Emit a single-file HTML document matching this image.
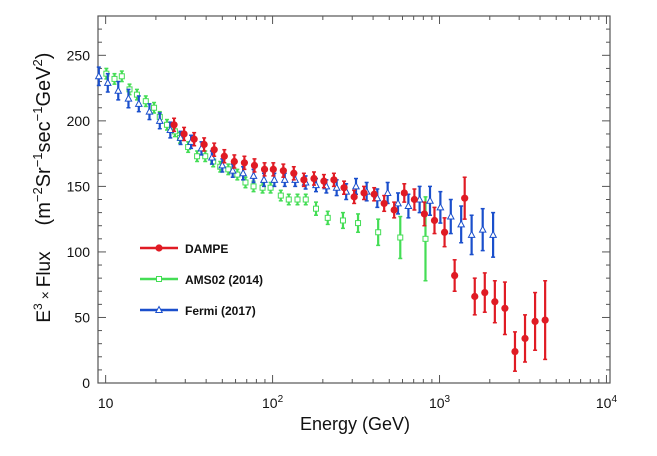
<!DOCTYPE html>
<html><head><meta charset="utf-8"><style>
body{margin:0;background:#fff}
svg text{font-family:"Liberation Sans",sans-serif;fill:#111}
</style></head><body>
<svg id="chart" width="657" height="451" viewBox="0 0 657 451" xmlns="http://www.w3.org/2000/svg">
<g id="axes"></g>
<g id="series"></g>
<g id="legend"></g>
<text x="355" y="430" font-size="18" text-anchor="middle">Energy (GeV)</text>
<text transform="translate(50,287) rotate(-90)" font-size="19" text-anchor="middle">E<tspan dy="-8" font-size="12">3</tspan><tspan dy="8" font-size="14"> × </tspan><tspan>Flux</tspan></text>
<text transform="translate(50,139) rotate(-90)" font-size="20" text-anchor="middle">(m<tspan dy="-8" font-size="13">−2</tspan><tspan dy="8">Sr</tspan><tspan dy="-8" font-size="13">−1</tspan><tspan dy="8">sec</tspan><tspan dy="-8" font-size="13">−1</tspan><tspan dy="8">GeV</tspan><tspan dy="-8" font-size="13">2</tspan><tspan dy="8">)</tspan></text>
</svg>
<script>
const xTickLabels=["10","10","10","10"];
const xTickExp=["","2","3","4"];
const yTicks=[0,50,100,150,200,250];
const dampeE=[25.7,29.5,33.9,38.9,44.7,51.4,59,67.8,77.9,89.5,101,116,134,154,177,203,233,268,308,353,406,466,535,615,707,812,933,1072,1232,1415,1626,1867,2145,2464,2831,3252,3736,4292];
const dampeV=[197,190,186,182,178,173,169,168,166,163,163,162,160,155,156,154,155,149,142,145,144,137,132,145,140,129,124,115,82,141,66,69,62,57,24,34,47,48];
const dampeErr=[5,5,5,5,5,5,5,5,5,5,5,5,5,5,5,5,5,5,5,5,5,6,6,7,8,9,10,11,12,16,14,15,16,20,15,18,22,30];
const fermiE=[9.1,10.3,11.9,13.7,15.8,18.3,21.1,24.4,28.1,32.5,37.5,43.3,50,57.7,66.6,76.9,88.8,102.5,118.3,136.6,157.7,182,210,242,276,316,366,424,489,564,651,760,877,1012,1168,1348,1557,1814,2094];
const fermiV=[234,229,223,217,213,207,200,193,187,184,179,172,166,162,160,158,155,155,155,155,153,151,150,149,146,150,146,141,145,137,135,140,139,134,127,121,113,117,113];
const fermiErr=[7,7,7,7,6,6,6,6,5,5,5,5,5,5,5,5,5,5,5,5,5,5,5,6,6,6,7,7,8,8,9,10,11,12,13,14,15,16,17];
const amsE=[10.1,11.3,12.5,13.9,15.4,17.4,19.5,21.1,23.3,26,27.9,31.2,35.3,39.5,44.1,48.6,54.3,61.5,68.8,76.9,87.1,97.3,112,125,141,158,182,214,264,325,429,582,824];
const amsV=[236,232,234,224,220,215,210,203,197,192,187,180,173,173,169,165,163,159,153,150,149,149,143,140,140,140,133,126,124,122,115,111,110];
const amsErr=[4,4,4,4,4,4,4,4,4,4,4,4,4,4,4,4,4,4,4,4,4,4,4,4,4,4,5,5,6,7,10,16,32];
const L=98,R=610,T=16,B=383,lmin=Math.log10(9),lmax=Math.log10(10500),ymax=280;
const sx=e=>L+(Math.log10(e)-lmin)/(lmax-lmin)*(R-L);
const sy=v=>B-v/ymax*(B-T);
const NS="http://www.w3.org/2000/svg";
function mk(t,a,p){const e=document.createElementNS(NS,t);for(const k in a)e.setAttribute(k,a[k]);p.appendChild(e);return e;}
const ax=document.getElementById('axes');
const fr=mk('rect',{x:L,y:T,width:R-L,height:B-T,fill:'none',stroke:'#555','stroke-width':1.2},ax);

for(let d=1;d<=4;d++){for(let m=1;m<10;m++){const e=m*Math.pow(10,d);if(e<9||e>10500)continue;const x=sx(e);const len=m==1?8:4;
mk('line',{x1:x,x2:x,y1:B,y2:B-len,stroke:'#555'},ax);mk('line',{x1:x,x2:x,y1:T,y2:T+len,stroke:'#555'},ax);}}
mk('line',{x1:sx(9),x2:sx(9),y1:B,y2:B-4,stroke:'#555'},ax);
xTickLabels.forEach((l,i)=>{const x=sx(Math.pow(10,i+1));const t=mk('text',{x:x,y:B+25,'font-size':14,'text-anchor':'middle'},ax);

t.textContent=l;if(xTickExp[i]){const s=mk('tspan',{dy:-6,'font-size':10},t);s.textContent=xTickExp[i];}});
for(let v=0;v<=ymax;v+=10){const y=sy(v);const len=v%50==0?8:4;mk('line',{x1:L,x2:L+len,y1:y,y2:y,stroke:'#555'},ax);mk('line',{x1:R,x2:R-len,y1:y,y2:y,stroke:'#555'},ax);}
yTicks.forEach(v=>{const t=mk('text',{x:L-8,y:sy(v)+5,'font-size':14,'text-anchor':'end'},ax);
t.textContent=v;});
const sg=document.getElementById('series');
function draw(E,V,Er,col,mark,name){const g=mk('g',{},sg);

E.forEach((e,i)=>{const x=sx(e),y=sy(V[i]),y1=sy(V[i]+Er[i]),y2=sy(V[i]-Er[i]);
mk('line',{x1:x,x2:x,y1:y1,y2:y2,stroke:col,'stroke-width':2.2},g);
mk('line',{x1:x-2,x2:x+2,y1:y1,y2:y1,stroke:col,'stroke-width':1.5},g);mk('line',{x1:x-2,x2:x+2,y1:y2,y2:y2,stroke:col,'stroke-width':1.5},g);
let p;if(mark=='c')p=mk('circle',{cx:x,cy:y,r:3.6,fill:col},g);
else if(mark=='s')p=mk('rect',{x:x-2.5,y:y-2.5,width:5,height:5,fill:'#fff',stroke:col,'stroke-width':1},g);
else p=mk('path',{d:`M${x},${y-3.5}L${x+3.2},${y+2.5}L${x-3.2},${y+2.5}Z`,fill:'#fff',stroke:col,'stroke-width':1},g);
});}
draw(amsE,amsV,amsErr,'#44dd55','s','ams02-series');
draw(fermiE,fermiV,fermiErr,'#1a4fcc','t','fermi-series');
draw(dampeE,dampeV,dampeErr,'#e01b24','c','dampe-series');
const lg=document.getElementById('legend');
[["DAMPE",'#e01b24','c'],["AMS02 (2014)",'#44dd55','s'],["Fermi (2017)",'#1a4fcc','t']].forEach((it,i)=>{const y=248+i*31;
const g=mk('g',{},lg);
mk('line',{x1:140,x2:178,y1:y,y2:y,stroke:it[1],'stroke-width':2.5},g);
if(it[2]=='c')mk('circle',{cx:159,cy:y,r:3.6,fill:it[1]},g);
else if(it[2]=='s')mk('rect',{x:156.5,y:y-2.5,width:5,height:5,fill:'#fff',stroke:it[1]},g);
else mk('path',{d:`M159,${y-3.5}L162.2,${y+2.5}L155.8,${y+2.5}Z`,fill:'#fff',stroke:it[1]},g);
const t=mk('text',{x:185,y:y+5,'font-size':12,'font-weight':'bold'},g);t.textContent=it[0];});
</script>
</body></html>
